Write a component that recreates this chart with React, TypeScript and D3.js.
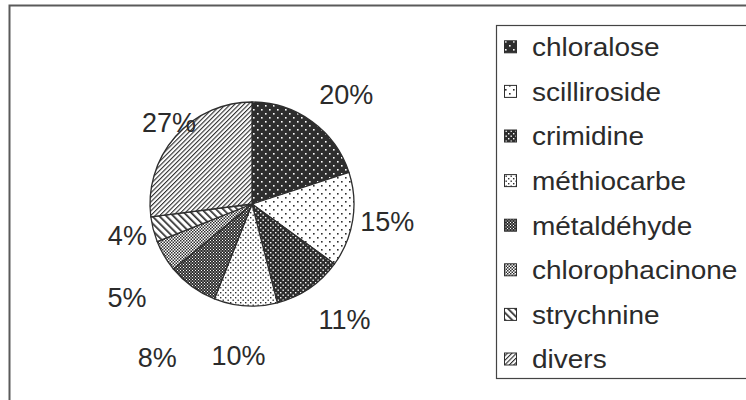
import React from 'react';
import * as d3 from 'd3';

const categories = ['chloralose', 'scilliroside', 'crimidine', 'méthiocarbe', 'métaldéhyde', 'chlorophacinone', 'strychnine', 'divers'];
const values = [20, 15, 11, 10, 8, 5, 4, 27];
const valueLabels = ['20%', '15%', '11%', '10%', '8%', '5%', '4%', '27%'];

const DARK = '#2e2e2e';
const patternIds = ['pChloralose', 'pScilliroside', 'pCrimidine', 'pMethiocarbe', 'pMetaldehyde', 'pChlorophacinone', 'pStrychnine', 'pDivers'];
// layout of percentage labels: radial distance from pie centre plus a small nudge
const labelDist = [145, 137, 147, 152, 163, 150, 139, 116];
const labelNudge: [number, number][] = [[9, 8], [0, -4], [10, -6], [-4, 0], [1, 21], [4, 17], [10, -3], [4, -5]];

function Patterns() {
  return (
    <defs>
      <pattern id="pChloralose" width={8} height={8} patternUnits="userSpaceOnUse">
        <rect width={8} height={8} fill={DARK} />
        <rect x={1} y={1} width={1.6} height={1.6} fill="#fff" />
        <rect x={5} y={5} width={1.6} height={1.6} fill="#fff" />
      </pattern>
      <pattern id="pScilliroside" width={8} height={8} patternUnits="userSpaceOnUse">
        <rect width={8} height={8} fill="#fff" />
        <rect x={1} y={1} width={1.6} height={1.6} fill={DARK} />
        <rect x={5} y={5} width={1.6} height={1.6} fill={DARK} />
      </pattern>
      <pattern id="pCrimidine" width={5} height={5} patternUnits="userSpaceOnUse">
        <rect width={5} height={5} fill={DARK} />
        <rect x={0.5} y={0.5} width={1.4} height={1.4} fill="#fff" />
        <rect x={3} y={3} width={1.4} height={1.4} fill="#fff" />
      </pattern>
      <pattern id="pMethiocarbe" width={5} height={5} patternUnits="userSpaceOnUse">
        <rect width={5} height={5} fill="#fff" />
        <rect x={0.5} y={0.5} width={1.4} height={1.4} fill={DARK} />
        <rect x={3} y={3} width={1.4} height={1.4} fill={DARK} />
      </pattern>
      <pattern id="pMetaldehyde" width={3} height={3} patternUnits="userSpaceOnUse">
        <rect width={3} height={3} fill={DARK} />
        <rect x={0} y={0} width={1} height={1} fill="#fff" />
        <rect x={1.5} y={1.5} width={1} height={1} fill="#fff" />
      </pattern>
      <pattern id="pChlorophacinone" width={3} height={3} patternUnits="userSpaceOnUse">
        <rect width={3} height={3} fill="#fff" />
        <rect x={0} y={0} width={1.5} height={1.5} fill={DARK} />
        <rect x={1.5} y={1.5} width={1.5} height={1.5} fill={DARK} />
      </pattern>
      <pattern id="pStrychnine" width={5} height={5} patternUnits="userSpaceOnUse" patternTransform="rotate(-45)">
        <rect width={5} height={5} fill="#fff" />
        <rect x={0} y={0} width={1.7} height={5} fill={DARK} />
      </pattern>
      <pattern id="pDivers" width={3.2} height={3.2} patternUnits="userSpaceOnUse" patternTransform="rotate(45)">
        <rect width={3.2} height={3.2} fill="#fff" />
        <rect x={0} y={0} width={1.1} height={3.2} fill={DARK} />
      </pattern>
    </defs>
  );
}

export default function App() {
  const W = 746;
  const H = 400;
  const cx = 252;
  const cy = 204;
  const r = 102;

  const arcs = d3.pie<number>().sort(null).value((d) => d)(values);
  const arcGen = d3.arc<d3.PieArcDatum<number>>().innerRadius(0).outerRadius(r);

  const legendX = 496.5;
  const legendY = 25.5;
  const rowScale = d3.scaleBand<string>().domain(categories).range([23, 23 + 8 * 44.6]);

  const font = '"Liberation Sans", Arial, sans-serif';

  return (
    <svg width={W} height={H} style={{ position: 'fixed', left: 0, top: 0 }} xmlns="http://www.w3.org/2000/svg">
      <Patterns />
      <rect x={0} y={0} width={W} height={H} fill="#fff" />
      {/* outer chart frame */}
      <rect x={9.5} y={5.5} width={W + 20} height={H + 20} fill="none" stroke="#5a5a5a" strokeWidth={2} />
      {/* pie */}
      <g transform={`translate(${cx},${cy})`}>
        {arcs.map((a, i) => (
          <path key={categories[i]} d={arcGen(a) || ''} fill={`url(#${patternIds[i]})`} stroke={DARK} strokeWidth={1.3} strokeLinejoin="round" />
        ))}
        {arcs.map((a, i) => {
          const mid = (a.startAngle + a.endAngle) / 2;
          const dist = labelDist[i];
          const x = Math.sin(mid) * dist + labelNudge[i][0];
          const y = -Math.cos(mid) * dist + labelNudge[i][1];
          return (
            <text key={'l' + i} x={x} y={y} dy="0.36em" textAnchor="middle" fontFamily={font} fontSize={27} fill="#2b2b2b">
              {valueLabels[i]}
            </text>
          );
        })}
      </g>
      {/* legend */}
      <rect x={legendX} y={legendY} width={W} height={353} fill="#fff" stroke="#444" strokeWidth={1.2} />
      {categories.map((c, i) => {
        const y = (rowScale(c) || 0) + rowScale.bandwidth() / 2 + 2;
        return (
          <g key={c}>
            <rect x={504.5} y={y - 6.5} width={12} height={12} fill={`url(#${patternIds[i]})`} stroke={DARK} strokeWidth={1} />
            <text x={532} y={y} dy="0.36em" fontFamily={font} fontSize={25} fill="#2b2b2b" transform={`translate(532,0) scale(1.12,1) translate(-532,0)`}>
              {c}
            </text>
          </g>
        );
      })}
    </svg>
  );
}
